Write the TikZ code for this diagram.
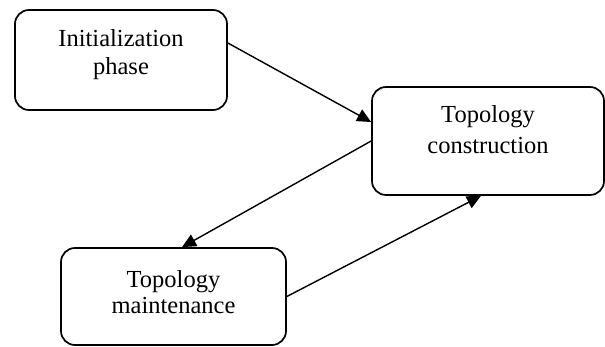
\documentclass[tikz,border=0pt]{standalone}
\usepackage{fontspec}
\setmainfont{Liberation Serif}
\usetikzlibrary{arrows.meta}
\begin{document}
\begin{tikzpicture}[x=1pt,y=1pt,
  box/.style={draw, line width=1.7pt, rounded corners=14pt, inner sep=0pt},
  txt/.style={anchor=base, inner sep=0pt, font=\fontsize{24.5}{28}\selectfont},
  conn/.style={line width=1.4pt, -{Triangle[length=14pt,width=13pt]}}]
\useasboundingbox (0,0) rectangle (605,346);
\node[box, minimum width=212pt, minimum height=100pt] (b1) at (121,286) {};
\node[box, minimum width=232pt, minimum height=108pt] (b2) at (488,205) {};
\node[box, minimum width=225pt, minimum height=97pt] (b3) at (173.5,49.5) {};
\node[txt] (t1a) at ([yshift=13pt]b1.center) {Initialization};
\node[txt] (t1b) at ([yshift=-15pt]b1.center) {phase};
\node[txt] (t2a) at ([yshift=18pt]b2.center) {Topology};
\node[txt] (t2b) at ([yshift=-12pt]b2.center) {construction};
\node[txt] (t3a) at ([yshift=9.5pt]b3.center) {Topology};
\node[txt] (t3b) at ([yshift=-16.5pt]b3.center) {maintenance};
\draw[conn] ([yshift=17pt]b1.east) -- ([yshift=19pt]b2.west);
\draw[conn] (b2.west) -- ([xshift=8.5pt]b3.north);
\draw[conn] (b3.east) -- ([xshift=-7pt]b2.south);
\end{tikzpicture}
\end{document}
